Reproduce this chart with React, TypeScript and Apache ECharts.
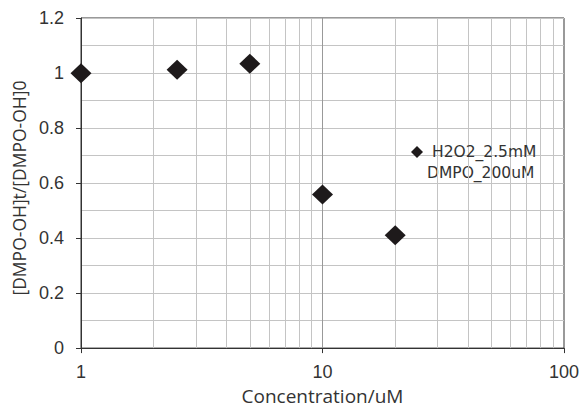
import React, { useEffect, useRef } from "react";
import * as echarts from "echarts";

const concentrations = [1, 2.5, 5, 10, 20];
const ratios = [0.999, 1.012, 1.034, 0.558, 0.41];
const minorXGrid = [2, 3, 4, 5, 6, 7, 8, 9, 20, 30, 40, 50, 60, 70, 80, 90];
const seriesName = "H2O2_2.5mM";
const legendLine2 = "DMPO_200uM";

export default function App() {
  const ref = useRef<HTMLDivElement>(null);
  useEffect(() => {
    if (!ref.current) return;
    const chart = echarts.init(ref.current, null, { renderer: "svg" });
    const tickFont = { fontFamily: "Liberation Sans, Arial, sans-serif", fontSize: 18, color: "#333" };
    chart.setOption({
      animation: false,
      grid: { left: 81, right: 19, top: 18, bottom: 57, show: true, borderColor: "#333", borderWidth: 1, backgroundColor: "transparent" },
      legend: {
        left: 406,
        top: 139,
        icon: "diamond",
        itemWidth: 12,
        itemHeight: 12,
        itemGap: 4,
        textStyle: { fontFamily: "DejaVu Sans, sans-serif", fontSize: 15.5, color: "#333", padding: [0, 0, 0, 4] },
        data: [seriesName],
      },
      graphic: [
        {
          type: "text",
          left: 427,
          top: 165,
          style: { text: legendLine2, fontFamily: "DejaVu Sans, sans-serif", fontSize: 15.5, fill: "#333" },
        },
      ],
      xAxis: {
        type: "log",
        logBase: 10,
        min: 1,
        max: 100,
        name: "Concentration/uM",
        nameLocation: "middle",
        nameGap: 37,
        nameTextStyle: { fontFamily: "Open Sans, sans-serif", fontSize: 19, color: "#333" },
        axisLine: { show: true, lineStyle: { color: "#333", width: 1 } },
        axisTick: { show: true, inside: false, length: 5, lineStyle: { color: "#333" } },
        axisLabel: { ...tickFont, margin: 15 },
        splitLine: { show: true, lineStyle: { color: "#999", width: 1 } },
        minorTick: { show: false },
        minorSplitLine: { show: false },
      },
      yAxis: {
        type: "value",
        min: 0,
        max: 1.2,
        interval: 0.2,
        name: "[DMPO-OH]t/[DMPO-OH]0",
        nameLocation: "middle",
        nameGap: 42,
        nameRotate: 90,
        nameTextStyle: { fontFamily: "Open Sans, sans-serif", fontSize: 17.5, color: "#333", padding: [0, 10, 0, 0] },
        axisLine: { show: true, lineStyle: { color: "#333", width: 1 } },
        axisTick: { show: true, inside: false, length: 5, lineStyle: { color: "#333" } },
        axisLabel: { ...tickFont, margin: 17 },
        splitLine: { show: true, lineStyle: { color: "#c4c4c4", width: 1 } },
        minorTick: { show: false, splitNumber: 2 },
        minorSplitLine: { show: true, lineStyle: { color: "#c4c4c4", width: 1 } },
      },
      series: [
        {
          name: seriesName,
          type: "scatter",
          symbol: "diamond",
          symbolSize: [21, 20],
          itemStyle: { color: "#1e1a1b", opacity: 1 },
          data: concentrations.map((c, i) => [c, ratios[i]]),
          z: 5,
          markLine: {
            silent: true,
            symbol: ["none", "none"],
            label: { show: false },
            lineStyle: { color: "#c4c4c4", width: 1, type: "solid" },
            z: 1,
            data: minorXGrid.map((v) => ({ xAxis: v })),
          },
        },
      ],
    });
    return () => chart.dispose();
  }, []);
  return (
    <div
      ref={ref}
      style={{ position: "absolute", left: 0, top: 0, width: 583, height: 410 }}
    />
  );
}
